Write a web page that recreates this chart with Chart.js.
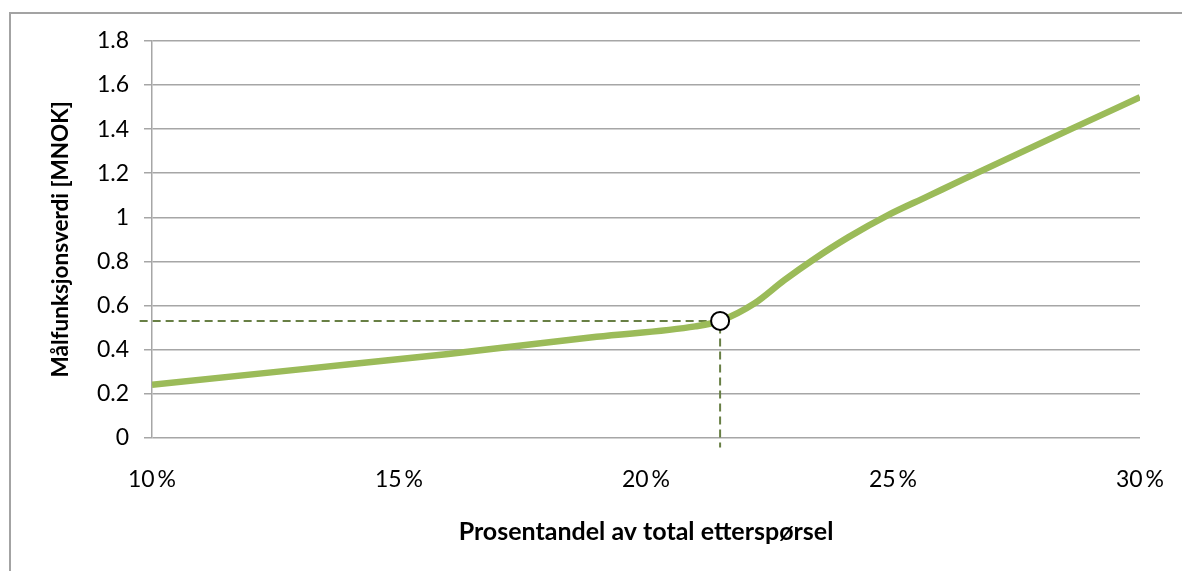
<!DOCTYPE html>
<html>
<head>
<meta charset="utf-8">
<script src="https://cdn.jsdelivr.net/npm/chart.js@4/dist/chart.umd.min.js"></script>
<style>
  html, body { margin: 0; padding: 0; background: #fff; overflow: hidden; }
  #wrap { position: relative; width: 1182px; height: 571px; }
  #frame { position: absolute; left: 9px; top: 12px; width: 1200px; height: 600px; border: 2px solid #a3a3a3; box-sizing: border-box; }
  canvas { position: absolute; left: 0; top: 0; }
</style>
</head>
<body>
<div id="wrap">
  <div id="frame"></div>
  <canvas id="chart" width="1182" height="571"></canvas>
</div>
<script>
// objective value (MNOK) against share of total demand (%)
const shareX = [10, 13, 16, 19, 21, 21.5, 22.2, 22.8, 23.4, 24.1, 24.9, 25.7, 26.4, 28.6, 30];
const valueY = [0.24, 0.31, 0.38, 0.458, 0.505, 0.53, 0.61, 0.715, 0.81, 0.91, 1.01, 1.095, 1.17, 1.40, 1.545];

// chosen operating point and its guide lines
const pickX = 21.5;
const pickY = 0.53;
const guideX = [9.75, pickX, pickX];
const guideY = [pickY, pickY, -0.045];

const xTicks = [10, 15, 20, 25, 30];
const yTicks = [0, 0.2, 0.4, 0.6, 0.8, 1, 1.2, 1.4, 1.6, 1.8];

const FONT = 'Lato, "Open Sans", sans-serif';

const ctx = document.getElementById('chart').getContext('2d');
const chart = new Chart(ctx, {
  type: 'line',
  data: {
    datasets: [
      {
        data: [{ x: pickX, y: pickY }],
        showLine: false,
        pointRadius: 9,
        pointBackgroundColor: '#ffffff',
        pointBorderColor: '#000000',
        pointBorderWidth: 2,
        order: 0
      },
      {
        data: shareX.map((x, i) => ({ x, y: valueY[i] })),
        borderColor: '#9BBB59',
        borderWidth: 6.5,
        pointRadius: 0,
        cubicInterpolationMode: 'monotone',
        borderCapStyle: 'butt',
        order: 1
      },
      {
        data: guideX.map((x, i) => ({ x, y: guideY[i] })),
        borderColor: '#687F45',
        borderWidth: 2,
        borderDash: [8, 5],
        pointRadius: 0,
        tension: 0,
        clip: false,
        order: 2
      }
    ]
  },
  options: {
    responsive: false,
    animation: false,
    events: [],
    layout: { padding: { left: 0, top: 41, right: 42, bottom: 0 } },
    plugins: { legend: { display: false }, tooltip: { enabled: false } },
    scales: {
      x: {
        type: 'linear',
        min: 10,
        max: 30,
        afterBuildTicks: s => { s.ticks = xTicks.map(v => ({ value: v })); },
        afterFit: s => {
          s.height = 571 - 437.7;
          s.paddingLeft = 0;
          s.paddingRight = 0;
        },
        grid: { display: false, drawTicks: false },
        border: { display: false },
        ticks: {
          padding: 28,
          maxRotation: 0,
          color: '#000',
          font: { family: FONT, size: 23 },
          callback: v => v + '\u2009%'
        },
        title: {
          display: true,
          text: 'Prosentandel av total etterspørsel',
          color: '#000',
          font: { family: FONT, size: 25, weight: 'bold' },
          padding: { top: 0, bottom: 24 }
        }
      },
      y: {
        min: 0,
        max: 1.8,
        afterBuildTicks: s => { s.ticks = yTicks.map(v => ({ value: v })); },
        afterFit: s => {
          s.width = 152;
          s.paddingTop = 0;
          s.paddingBottom = 0;
        },
        grid: { color: '#a6a6a6', lineWidth: 1.5, tickLength: 8 },
        border: { display: true, color: '#a6a6a6', width: 1.5 },
        ticks: {
          padding: 15,
          color: '#000',
          font: { family: FONT, size: 23 },
          callback: v => String(v)
        },
        title: {
          display: true,
          text: 'Målfunksjonsverdi [MNOK]',
          color: '#000',
          font: { family: FONT, size: 22.5, weight: 'bold' },
          padding: { top: 47, bottom: 0 }
        }
      }
    }
  }
});
</script>
</body>
</html>
